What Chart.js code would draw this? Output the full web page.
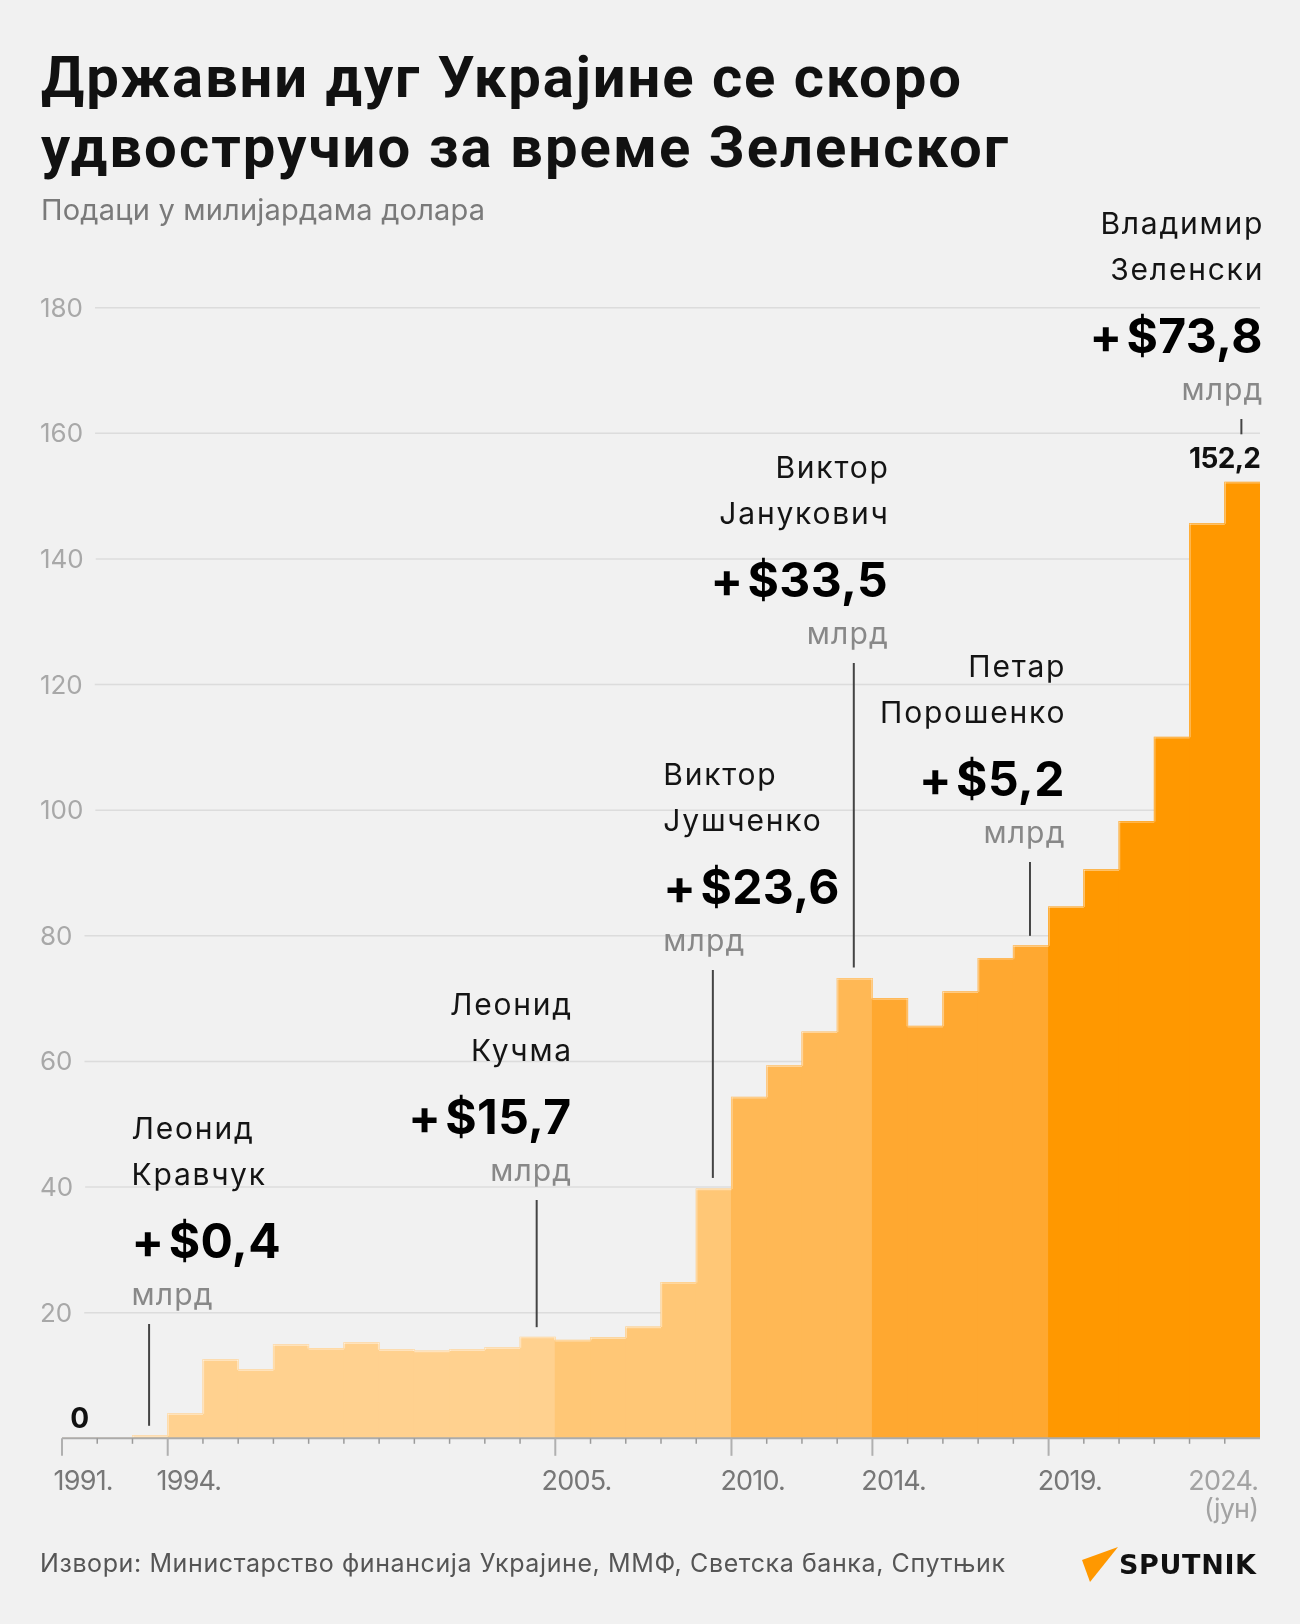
<!DOCTYPE html>
<html lang="sr">
<head>
<meta charset="utf-8">
<title>Државни дуг Украјине</title>
<script src="https://cdn.jsdelivr.net/npm/chart.js@4.4.1/dist/chart.umd.min.js"></script>
<style>
html,body{margin:0;padding:0;background:#f1f1f1;}
#wrap{position:relative;width:1300px;height:1624px;overflow:hidden;background:#f1f1f1;}
#c{position:absolute;left:0;top:0;}
.t{position:absolute;white-space:nowrap;line-height:1;margin:0;padding:0;}
h1{margin:0;padding:0;font-weight:700;}
#title1,#title2{font-family:Roboto,"Noto Sans",sans-serif;font-weight:700;font-size:58px;color:#111;left:41px;}
#title1{top:48px;}
#title2{top:118px;}
#sub{font-family:Inter,sans-serif;font-size:29px;color:#7a7a7a;left:41px;top:195px;}
#src{font-family:Inter,sans-serif;font-size:25px;color:#555;left:40px;top:1551px;}
#logoTxt{font-family:"DejaVu Sans",sans-serif;font-weight:700;font-size:27px;color:#111;left:1119px;top:1551px;}
#logoMark{position:absolute;left:1070px;top:1540px;}
</style>
</head>
<body>
<div id="wrap">
<canvas id="c" width="1300" height="1624"></canvas>
<h1>
<span class="t" id="title1" data-w="920">Државни дуг Украјине се скоро</span>
<span class="t" id="title2" data-w="967">удвостручио за време Зеленског</span>
</h1>
<div class="t" id="sub" data-w="444">Подаци у милијардама долара</div>
<div class="t" id="src" data-w="965">Извори: Министарство финансија Украјине, ММФ, Светска банка, Спутњик</div>
<svg id="logoMark" width="60" height="50" viewBox="0 0 60 50"><polygon points="12,20 48,7 20,42" fill="#ff9800"/></svg>
<div class="t" id="logoTxt" data-w="137">SPUTNIK</div>
</div>
<script>
// ---------------- DATA ----------------
const years = [1991,1992,1993,1994,1995,1996,1997,1998,1999,2000,2001,2002,2003,2004,2005,2006,2007,2008,2009,2010,2011,2012,2013,2014,2015,2016,2017,2018,2019,2020,2021,2022,2023,2024];
const debt = [0,0,0.4,3.9,12.5,10.9,14.9,14.3,15.2,14.1,13.9,14.1,14.4,16.1,15.6,16.0,17.7,24.8,39.7,54.3,59.3,64.7,73.2,70.0,65.6,71.1,76.4,78.4,84.6,90.5,98.2,111.6,145.6,152.2];
const xLabelYears = [1991,1994,2005,2010,2014,2019,2024];
const xLabelText = ['1991.','1994.','2005.','2010.','2014.','2019.','2024.'];
const lastYearNote = '(јун)';
const yTicks = [20,40,60,80,100,120,140,160,180];
const presidents = [['Леонид','Кравчук'],['Леонид','Кучма'],['Виктор','Јушченко'],['Виктор','Јанукович'],['Петар','Порошенко'],['Владимир','Зеленски']];
const increments = [0.4,15.7,23.6,33.5,5.2,73.8];
const termStartYears = [1991,1994,2005,2010,2014,2019];
const termEndYears = [1993,2004,2009,2013,2018,2024];
const unitWord = 'млрд';
const labelledValueYears = [1991,2024];

// ---------------- STYLE / LAYOUT ----------------
const periodColors = ['#ffd18f','#ffd18f','#ffc776','#ffb855','#ffa830','#ff9800'];
const annLayout = [
  {align:'left',  dx:-18.5, top:1324, gap:10},
  {align:'right', dx:33.5,  top:1200, gap:10},
  {align:'left',  dx:-50.5, top:970,  gap:11},
  {align:'right', dx:33,    top:663,  gap:11},
  {align:'right', dx:33.5,  top:862,  gap:10},
  {align:'right', dx:20,    top:419,  gap:48}
];

function colorFor(year){
  for(let i=termStartYears.length-1;i>=0;i--){ if(year>=termStartYears[i]) return periodColors[i]; }
  return periodColors[0];
}
function fmt(v){ return v.toFixed(1).replace('.',','); }

const HAS_LS = (function(){ const cx=document.createElement('canvas').getContext('2d'); return 'letterSpacing' in cx; })();

function calib(ctx,font,s,target){
  ctx.font=font; if(HAS_LS) ctx.letterSpacing='0px';
  const m=ctx.measureText(s).width;
  return {font, ls:(target-m)/(s.length-1), sx: target/m};
}
function txt(ctx,s,x,y,st,align,color){
  ctx.save();
  ctx.font=st.font; ctx.fillStyle=color; ctx.textAlign='left'; ctx.textBaseline='alphabetic';
  if(HAS_LS) ctx.letterSpacing='0px';
  const m0=ctx.measureText(s).width;
  let w;
  if(HAS_LS){ w=m0+(s.length-1)*st.ls; } else { w=m0*st.sx; }
  const xl = align==='right' ? x-w : align==='center' ? x-w/2 : x;
  if(HAS_LS){ ctx.letterSpacing=st.ls+'px'; ctx.fillText(s,xl,y); }
  else { ctx.translate(xl,y); ctx.scale(st.sx,1); ctx.fillText(s,0,0); }
  ctx.restore();
  return w;
}

function fitHtml(){
  document.querySelectorAll('[data-w]').forEach(el=>{
    el.style.letterSpacing='0px';
    const w=el.getBoundingClientRect().width;
    const n=el.textContent.length;
    el.style.letterSpacing=((+el.dataset.w - w)/(n-1))+'px';
  });
}

const decor = {
  id:'decor',
  beforeDatasetsDraw(chart){
    const ctx=chart.ctx, ys=chart.scales.y, a=chart.chartArea;
    const st=calib(ctx,'400 26px Inter','180',43);
    yTicks.forEach(v=>{
      const py=ys.getPixelForValue(v);
      const w=txt(ctx,String(v),40,py+9,st,'left','#a8a8a8');
      ctx.save(); ctx.strokeStyle='#dcdcdc'; ctx.lineWidth=1.5;
      ctx.beginPath(); ctx.moveTo(40+w+12,py); ctx.lineTo(a.right,py); ctx.stroke(); ctx.restore();
    });
  },
  afterDatasetsDraw(chart){
    const ctx=chart.ctx, xs=chart.scales.x, ys=chart.scales.y, a=chart.chartArea;
    const y0=ys.getPixelForValue(0);
    const bars=chart.getDatasetMeta(0).data;
    // light step outline along the bar tops
    ctx.save(); ctx.strokeStyle='rgba(255,255,255,0.4)'; ctx.lineWidth=1.2;
    bars.forEach((b,i)=>{
      if(!(debt[i]>0)) return;
      const l=b.x-b.width/2, r=b.x+b.width/2;
      ctx.beginPath(); ctx.moveTo(l,b.y+0.6); ctx.lineTo(r,b.y+0.6); ctx.stroke();
      const prevY = i>0 ? bars[i-1].y : y0;
      if(prevY>b.y+1){ ctx.beginPath(); ctx.moveTo(l+0.6,b.y); ctx.lineTo(l+0.6,prevY); ctx.stroke(); }
      const nextY = i<bars.length-1 ? bars[i+1].y : y0;
      if(nextY>b.y+1 && i<bars.length-1){ ctx.beginPath(); ctx.moveTo(r-0.6,b.y); ctx.lineTo(r-0.6,nextY); ctx.stroke(); }
    });
    ctx.restore();
    const half=(xs.getPixelForValue(1)-xs.getPixelForValue(0))/2;
    // axis line
    ctx.save(); ctx.strokeStyle='#ababab'; ctx.lineWidth=2;
    ctx.beginPath(); ctx.moveTo(a.left,y0); ctx.lineTo(a.right,y0); ctx.stroke();
    // ticks
    years.forEach((yr,i)=>{
      const px=xs.getPixelForValue(i)-half;
      const major = xLabelYears.includes(yr) && yr!==years[years.length-1];
      ctx.strokeStyle = major ? '#b0b0b0' : '#9a9a9a';
      ctx.lineWidth = major ? 2 : 1.5;
      ctx.beginPath(); ctx.moveTo(px,y0); ctx.lineTo(px,y0+(major?17.5:5.5)); ctx.stroke();
    });
    ctx.restore();
    // x labels
    const sx=calib(ctx,'400 27px Inter','1991.',60);
    xLabelYears.forEach((yr,k)=>{
      const i=years.indexOf(yr);
      const cx=xs.getPixelForValue(i);
      if(k===xLabelYears.length-1){
        txt(ctx,xLabelText[k],a.right-1,y0+52,sx,'right','#a3a3a3');
        txt(ctx,lastYearNote,a.right-1,y0+80,sx,'right','#a3a3a3');
      } else {
        txt(ctx,xLabelText[k],cx+4,y0+52,sx,'center','#777777');
      }
    });
    // value labels
    const sv=calib(ctx,'700 28px Inter','152,2',72);
    labelledValueYears.forEach((yr,k)=>{
      const i=years.indexOf(yr);
      const v=debt[i];
      const s = v===0 ? '0' : fmt(v);
      if(k===labelledValueYears.length-1){
        txt(ctx,s,a.right+1,ys.getPixelForValue(v)-14.5,sv,'right','#111');
      } else {
        txt(ctx,s,xs.getPixelForValue(i),ys.getPixelForValue(v)-10,sv,'center','#111');
      }
    });
    // annotations
    const sName=calib(ctx,'400 30px Inter','Владимир',162);
    const sBig=calib(ctx,'700 48px Inter','+\u200A$73,8',173);
    const sUnit=calib(ctx,'400 30px Inter',unitWord,81);
    presidents.forEach((p,k)=>{
      const L=annLayout[k];
      const i=years.indexOf(termEndYears[k]);
      const cx=xs.getPixelForValue(i);
      const barTop=ys.getPixelForValue(debt[i]);
      ctx.save(); ctx.strokeStyle='#444'; ctx.lineWidth=2;
      ctx.beginPath(); ctx.moveTo(cx-1,L.top); ctx.lineTo(cx-1,barTop-L.gap); ctx.stroke(); ctx.restore();
      const tx=cx+L.dx;
      txt(ctx,p[0],tx,L.top-185,sName,L.align,'#141414');
      txt(ctx,p[1],tx,L.top-139,sName,L.align,'#141414');
      txt(ctx,'+\u200A$'+fmt(increments[k]),tx,L.top-66.5,sBig,L.align,'#000');
      txt(ctx,unitWord,tx,L.top-19.5,sUnit,L.align,'#888');
    });
  }
};

function build(){
  fitHtml();
  new Chart(document.getElementById('c'),{
    type:'bar',
    data:{
      labels: years.map(String),
      datasets:[{
        label:'Државни дуг',
        data: debt,
        backgroundColor: years.map(colorFor),
        borderWidth: 0,
        inflateAmount: 0.5,
        barPercentage:1.0,
        categoryPercentage:1.0
      }]
    },
    options:{
      responsive:false,
      devicePixelRatio:1,
      animation:false,
      layout:{padding:{left:62,right:40,top:307.7,bottom:185.7}},
      plugins:{legend:{display:false},tooltip:{enabled:false},title:{display:false}},
      scales:{
        x:{display:false,offset:true},
        y:{display:false,min:0,max:180}
      }
    },
    plugins:[decor]
  });
}
if(document.fonts && document.fonts.ready){ document.fonts.ready.then(build); } else { build(); }
</script>
</body>
</html>
